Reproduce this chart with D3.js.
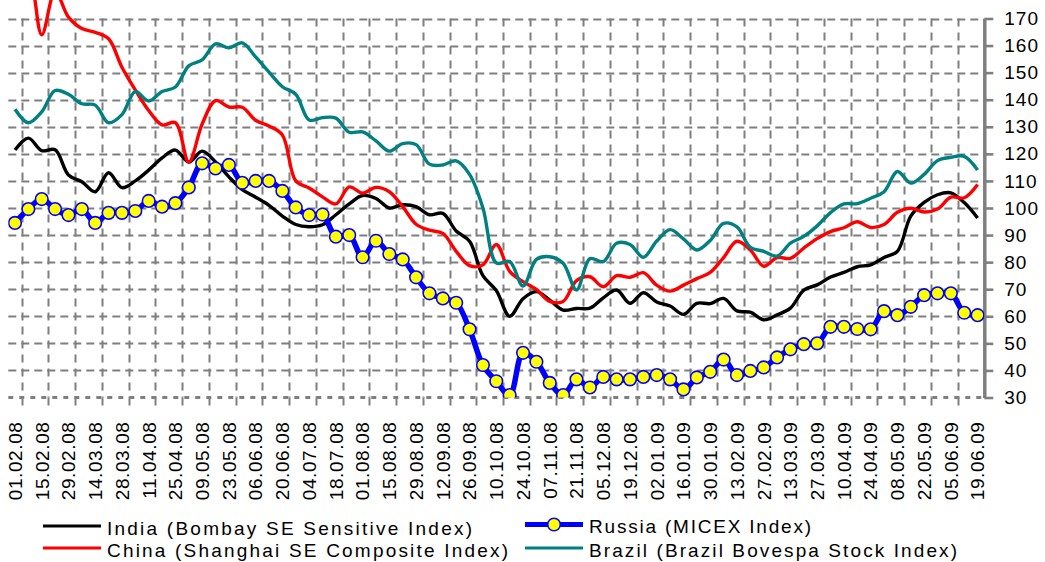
<!DOCTYPE html>
<html>
<head>
<meta charset="utf-8">
<script src="https://d3js.org/d3.v7.min.js"></script>
<style>
    body { margin: 0; background: #fff; }
    svg { display: block; font-family: "Liberation Sans", Arial, sans-serif; }
</style>
</head>
<body>
<script>
// date labels, one every second week
var tickLabels = ["01.02.08", "15.02.08", "29.02.08", "14.03.08", "28.03.08",
        "11.04.08", "25.04.08", "09.05.08", "23.05.08", "06.06.08", "20.06.08",
        "04.07.08", "18.07.08", "01.08.08", "15.08.08", "29.08.08", "12.09.08",
        "26.09.08", "10.10.08", "24.10.08", "07.11.08", "21.11.08", "05.12.08",
        "19.12.08", "02.01.09", "16.01.09", "30.01.09", "13.02.09", "27.02.09",
        "13.03.09", "27.03.09", "10.04.09", "24.04.09", "08.05.09", "22.05.09",
        "05.06.09", "19.06.09"],
    yTicks = [30, 40, 50, 60, 70, 80, 90, 100, 110, 120, 130, 140, 150, 160, 170],
    // weekly index values
    india = [121.4, 125.8, 121.2, 121.5, 112.2, 109.7, 106, 113, 107.5, 110,
        114, 118.5, 121.4, 117, 121, 117, 111.5, 106.8, 104, 101,
        97, 93.9, 93.1, 93.8, 97.5, 101.5, 104.6, 103.5, 100, 101.2,
        100.5, 97.5, 98, 91.5, 87.7, 75, 69.5, 60, 66.5, 69.1,
        66, 62.3, 62.9, 63, 66.8, 69.7, 64.8, 68.7, 65.3, 63.8,
        60.7, 64.8, 64.7, 66.6, 62, 61.5, 58.7, 60.5, 63, 69.7,
        71.6, 74.5, 76.2, 78.3, 79, 81.7, 84, 97, 102.1, 104.9,
        105.6, 102, 96.3],
    russia = [94.5, 99.6, 103.3, 99.6, 97.4, 99.6, 94.5, 98.2, 98.2, 98.9,
        102.6, 100.5, 101.8, 107.6, 116.5, 114.6, 115.9, 109.3, 110, 110,
        106.3, 100.2, 97.4, 97.6, 89.4, 90, 81.8, 87.9, 83, 81,
        74.4, 68.5, 66.6, 65, 55.2, 42, 36, 30.9, 46.5, 43.2,
        35.4, 30.9, 36.7, 33.7, 37.6, 36.7, 36.7, 37.6, 38.3, 36.7,
        33, 37.4, 39.5, 44, 38.3, 39.8, 41.1, 44.8, 47.8, 49.7,
        50, 56.1, 56.1, 55.3, 55.2, 61.9, 60.4, 63.5, 67.8, 68.5,
        68.5, 61.3, 60.4],
    china = [190, 187, 164, 180, 170.5, 166.3, 164.9, 162.5, 152, 143.6,
        136, 130.7, 131.5, 117, 131, 139.7, 137.3, 137.2, 132.4, 130.3,
        127, 110, 107.4, 104.1, 101.5, 107.8, 105.5, 107.6, 106, 100.5,
        94, 91.8, 90.6, 84, 78.7, 79, 86.5, 76.6, 72.8, 69.9,
        65.5, 65.5, 73.2, 74.6, 70.9, 75, 74.4, 76.1, 71.5, 69.3,
        71.5, 73.9, 76.2, 81.7, 87.7, 84.5, 78.5, 81.7, 81.4, 85.2,
        88.7, 91.3, 92.7, 94.9, 92.8, 93.9, 98.4, 99.9, 98.5, 99.6,
        104, 103.8, 108.7],
    brazil = [136.5, 131.5, 135.5, 143.4, 142, 138.5, 138, 131.5, 134.5, 143,
        139.5, 143, 144.7, 152.5, 154.7, 160.6, 159.2, 161, 155.8, 150.2,
        144.8, 142, 132.5, 133.4, 133.2, 128, 128.1, 124.8, 121, 123.8,
        123.4, 116.2, 115.9, 117.4, 112.4, 100, 79.7, 80.2, 71.2, 81,
        82, 79.6, 69.7, 81.3, 80.2, 87, 86.5, 81.8, 87.8, 92,
        88.6, 84.5, 88, 94.3, 93, 85.5, 84, 82.2, 87, 89.5,
        93.4, 98.3, 101.5, 101.6, 103.6, 106, 113.5, 109.2, 112.4, 117.5,
        118.7, 119.1, 114],
    seriesNames = ["India (Bombay SE Sensitive Index)", "Russia (MICEX Index)",
        "China (Shanghai SE Composite Index)", "Brazil (Brazil Bovespa Stock Index)"];

window.onload = function() {
    makeGraph();
};

/*
 * Draw the four stock index lines.
 */
function makeGraph()
{
    var width = 1045,
        height = 562,
        left = 8.3,
        right = 984.3,
        top = 18.5,
        bottom = 397.5,
        grey = "#7f7f7f";

    var svg = d3.select("body").append("svg")
        .attr("width", width)
        .attr("height", height);

    // one band per week
    var scaleX = d3.scaleBand()
        .domain(d3.range(india.length))
        .range([left, right]);
    var bw = scaleX.bandwidth();

    var scaleY = d3.scaleLinear()
        .domain([30, 170])
        .range([bottom, top]);

    function cx(i) { return scaleX(i) + bw / 2; }

    // horizontal grid lines
    svg.append("g").selectAll("line")
        .data(yTicks.filter(function(d) { return d > 30; }))
        .enter().append("line")
            .attr("x1", left)
            .attr("x2", right)
            .attr("y1", function(d) { return Math.round(scaleY(d)) + 0.5; })
            .attr("y2", function(d) { return Math.round(scaleY(d)) + 0.5; })
            .attr("stroke", grey)
            .attr("stroke-width", 2)
            .attr("stroke-dasharray", "8,5");

    // vertical grid lines sit after every second week
    var gridIdx = d3.range(0, india.length - 1, 2);
    svg.append("g").selectAll("line")
        .data(gridIdx)
        .enter().append("line")
            .attr("x1", function(d) { return Math.round(scaleX(d) + bw) + 0.5; })
            .attr("x2", function(d) { return Math.round(scaleX(d) + bw) + 0.5; })
            .attr("y1", top)
            .attr("y2", bottom)
            .attr("stroke", grey)
            .attr("stroke-width", 2)
            .attr("stroke-dasharray", "8,6");

    // small ticks below the category axis
    svg.append("g").selectAll("line")
        .data(gridIdx)
        .enter().append("line")
            .attr("x1", function(d) { return Math.round(scaleX(d) + bw) + 0.5; })
            .attr("x2", function(d) { return Math.round(scaleX(d) + bw) + 0.5; })
            .attr("y1", bottom)
            .attr("y2", bottom + 8)
            .attr("stroke", grey)
            .attr("stroke-width", 2);

    // dotted category axis
    svg.append("line")
        .attr("x1", left)
        .attr("x2", right)
        .attr("y1", bottom)
        .attr("y2", bottom)
        .attr("stroke", grey)
        .attr("stroke-width", 3)
        .attr("stroke-dasharray", "5,6");

    // date labels
    var xAxis = d3.axisBottom(scaleX)
        .tickValues(d3.range(0, india.length, 2))
        .tickFormat(function(d) { return tickLabels[d / 2]; })
        .tickSize(0);

    var gx = svg.append("g")
        .attr("transform", "translate(0," + bottom + ")")
        .call(xAxis);
    gx.select(".domain").remove();
    gx.selectAll("text")
        .attr("transform", "rotate(-90)")
        .attr("x", -24)
        .attr("y", 0)
        .attr("dy", "0.36em")
        .style("text-anchor", "end")
        .style("font-size", "19px")
        .style("letter-spacing", "0.6px")
        .style("fill", "#000")
        .style("font-family", "Liberation Sans, Arial, sans-serif");

    // value axis on the right
    var yAxis = d3.axisRight(scaleY)
        .tickValues(yTicks)
        .tickSize(9)
        .tickSizeOuter(0)
        .tickPadding(11);

    var gy = svg.append("g")
        .attr("transform", "translate(" + right + ",0)")
        .call(yAxis);
    gy.select(".domain")
        .attr("stroke", grey)
        .attr("stroke-width", 3.5);
    gy.selectAll(".tick line")
        .attr("stroke", grey)
        .attr("stroke-width", 2.6);
    gy.selectAll("text")
        .style("font-size", "19px")
        .style("letter-spacing", "1px")
        .style("fill", "#000")
        .style("font-family", "Liberation Sans, Arial, sans-serif");

    // clip the lines to the plot area
    svg.append("clipPath")
        .attr("id", "plotclip")
        .append("rect")
            .attr("x", left)
            .attr("y", 0)
            .attr("width", right - left)
            .attr("height", bottom);

    var line = d3.line()
        .x(function(d, i) { return cx(i); })
        .y(function(d) { return scaleY(d); })
        .curve(d3.curveCatmullRom.alpha(0.5));

    var plot = svg.append("g").attr("clip-path", "url(#plotclip)");

    plot.append("path")
        .attr("d", line(india))
        .attr("fill", "none")
        .attr("stroke", "#000")
        .attr("stroke-width", 3.4);

    plot.append("path")
        .attr("d", line(russia))
        .attr("fill", "none")
        .attr("stroke", "#0000ff")
        .attr("stroke-width", 5.5);

    plot.selectAll(".marker")
        .data(russia)
        .enter().append("circle")
            .attr("class", "marker")
            .attr("cx", function(d, i) { return cx(i); })
            .attr("cy", function(d) { return scaleY(d); })
            .attr("r", 6.3)
            .attr("fill", "#ffff00")
            .attr("stroke", "#0000ff")
            .attr("stroke-width", 1.6);

    plot.append("path")
        .attr("d", line(china))
        .attr("fill", "none")
        .attr("stroke", "#ff0000")
        .attr("stroke-width", 3.4);

    plot.append("path")
        .attr("d", line(brazil))
        .attr("fill", "none")
        .attr("stroke", "#008080")
        .attr("stroke-width", 3.4);

    // legend, two rows of two entries
    var legend = [
        {name: seriesNames[0], color: "#000", x: 43, y: 526, w: 365, marker: false, sw: 3.2},
        {name: seriesNames[1], color: "#0000ff", x: 525, y: 524.5, w: 222, marker: true, sw: 5},
        {name: seriesNames[2], color: "#ff0000", x: 43, y: 548, w: 401, marker: false, sw: 3.2},
        {name: seriesNames[3], color: "#008080", x: 525, y: 548, w: 368, marker: false, sw: 3.2}
    ];

    var items = svg.selectAll(".legend")
        .data(legend)
        .enter().append("g")
            .attr("class", "legend")
            .attr("transform", function(d) { return "translate(" + d.x + "," + d.y + ")"; });

    items.append("line")
        .attr("x1", 0)
        .attr("x2", 58)
        .attr("stroke", function(d) { return d.color; })
        .attr("stroke-width", function(d) { return d.sw; });

    items.filter(function(d) { return d.marker; })
        .append("circle")
            .attr("cx", 29)
            .attr("r", 6.3)
            .attr("fill", "#ffff00")
            .attr("stroke", "#0000ff")
            .attr("stroke-width", 1.6);

    items.append("text")
        .attr("x", 64)
        .attr("y", 8.5)
        .attr("textLength", function(d) { return d.w; })
        .attr("lengthAdjust", "spacing")
        .style("font-size", "19px")
        .text(function(d) { return d.name; });
}
</script>
</body>
</html>
